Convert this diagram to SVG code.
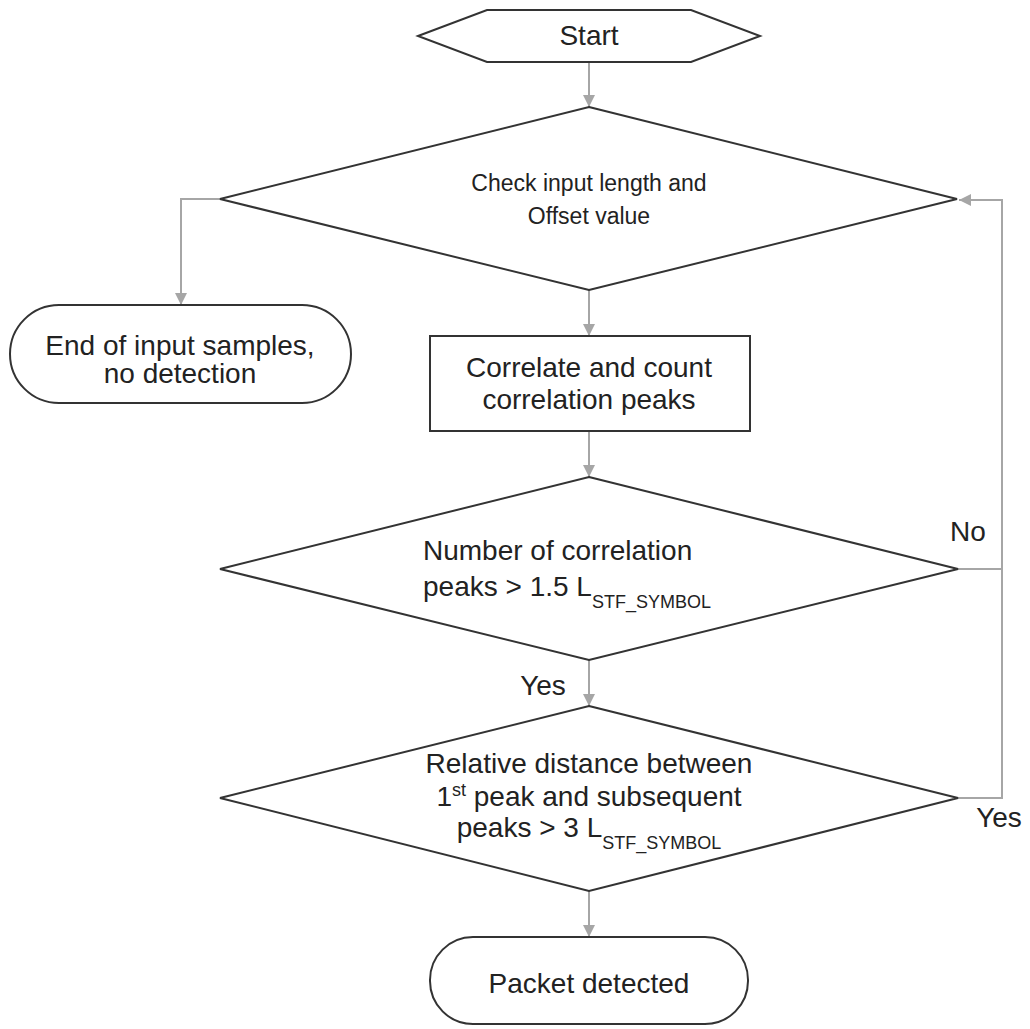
<svg xmlns="http://www.w3.org/2000/svg" width="1030" height="1029" viewBox="0 0 1030 1029">
<style>
.shape{fill:#fff;stroke:#333;stroke-width:2}
.conn{fill:none;stroke:#a6a6a6;stroke-width:2}
text{font-family:"Liberation Sans",Arial,sans-serif;font-size:28px;fill:#222}
.c{text-anchor:middle}
.sub{font-size:18px}
.small{font-size:23px}
</style>
<defs>
<marker id="arr" viewBox="0 0 12 12" refX="12" refY="6" markerWidth="12" markerHeight="12" markerUnits="userSpaceOnUse" orient="auto">
<path d="M0,0 L12,6 L0,12 Z" fill="#a6a6a6"/>
</marker>
</defs>
<rect width="1030" height="1029" fill="#fff"/>
<g id="connectors">
<line class="conn" x1="589" y1="62" x2="589" y2="107" marker-end="url(#arr)"/>
<polyline class="conn" points="220,199 181,199 181,305" marker-end="url(#arr)"/>
<line class="conn" x1="589" y1="290" x2="589" y2="336" marker-end="url(#arr)"/>
<line class="conn" x1="589" y1="431" x2="589" y2="477" marker-end="url(#arr)"/>
<polyline class="conn" points="958,569 1002,569 1002,200 959,200" marker-end="url(#arr)"/>
<line class="conn" x1="589" y1="660" x2="589" y2="706" marker-end="url(#arr)"/>
<polyline class="conn" points="958,798 1002,798 1002,569"/>
<line class="conn" x1="589" y1="891" x2="589" y2="937" marker-end="url(#arr)"/>
<text x="968" y="541" class="c">No</text>
<text x="543" y="695" class="c">Yes</text>
<text x="999" y="827" class="c">Yes</text>
</g>
<g id="start">
<polygon class="shape" points="418,36 487,10 691,10 760,36 691,62 487,62"/>
<text x="589" y="45" class="c">Start</text>
</g>
<g id="check-input">
<polygon class="shape" points="589,107 957,199 589,290 220,199"/>
<text x="589" y="191" class="c small">Check input length and</text>
<text x="589" y="224" class="c small">Offset value</text>
</g>
<g id="end-no-detection">
<rect class="shape" x="10" y="305" width="341" height="98" rx="49" ry="49"/>
<text x="180" y="355" class="c">End of input samples,</text>
<text x="180" y="383" class="c">no detection</text>
</g>
<g id="correlate">
<rect class="shape" x="430" y="336" width="320" height="95"/>
<text x="589" y="377" class="c">Correlate and count</text>
<text x="589" y="409" class="c">correlation peaks</text>
</g>
<g id="peak-count">
<polygon class="shape" points="589,477 958,569 589,660 220,569"/>
<text x="423" y="560">Number of correlation</text>
<text x="423" y="596">peaks &gt; 1.5 L<tspan class="sub" dy="12">STF_SYMBOL</tspan></text>
</g>
<g id="relative-distance">
<polygon class="shape" points="589,706 958,798 589,891 220,798"/>
<text x="589" y="773" class="c">Relative distance between</text>
<text x="589" y="806" class="c">1<tspan class="sub" dy="-10">st</tspan><tspan dy="10"> peak and subsequent</tspan></text>
<text x="589" y="837" class="c">peaks &gt; 3 L<tspan class="sub" dy="12">STF_SYMBOL</tspan></text>
</g>
<g id="packet-detected">
<rect class="shape" x="430" y="937" width="318" height="87" rx="43" ry="43"/>
<text x="589" y="993" class="c">Packet detected</text>
</g>
</svg>
